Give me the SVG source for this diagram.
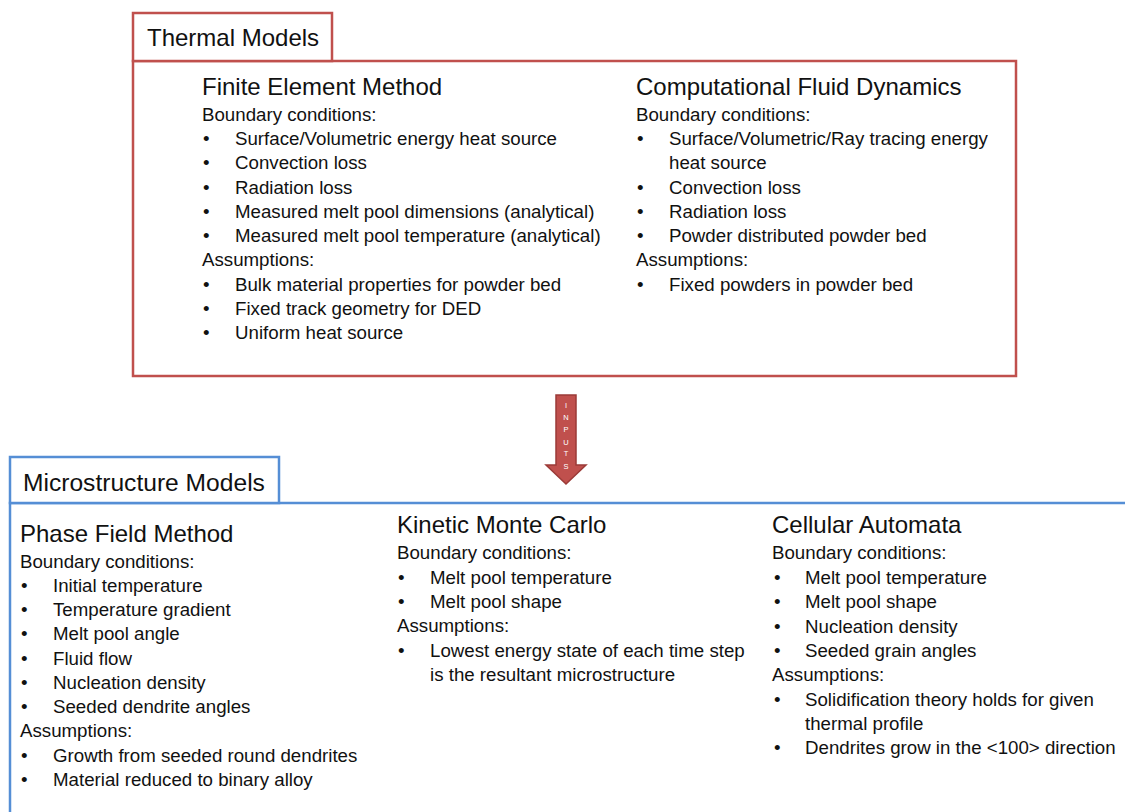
<svg xmlns="http://www.w3.org/2000/svg" width="1125" height="812" viewBox="0 0 1125 812">
<style>
text{font-family:"Liberation Sans",Arial,sans-serif;fill:#111;}
.hd{font-size:24px;}
.tt{font-size:24px;}
.b{font-size:18.7px;}
.red{fill:#fff;stroke:#C0504D;stroke-width:2.5;}
.blue{fill:#fff;stroke:#558ED5;stroke-width:2.5;}
.arr{font-size:7.5px;fill:#fff;text-anchor:middle;}
</style>
<rect width="1125" height="812" fill="#fff"/>
<g id="thermal-models">
<rect class="red" x="133" y="61" width="883" height="315"/>
<rect class="red" x="133" y="13" width="199" height="48"/>
<text class="hd" x="147" y="46">Thermal Models</text>
<g id="fem">
<text class="tt" x="202" y="95">Finite Element Method</text>
<text class="b" x="202" y="121">Boundary conditions:</text>
<text class="b"><tspan x="203" y="145">•</tspan><tspan x="235" y="145">Surface/Volumetric energy heat source</tspan></text>
<text class="b"><tspan x="203" y="169">•</tspan><tspan x="235" y="169">Convection loss</tspan></text>
<text class="b"><tspan x="203" y="193.5">•</tspan><tspan x="235" y="193.5">Radiation loss</tspan></text>
<text class="b"><tspan x="203" y="218">•</tspan><tspan x="235" y="218">Measured melt pool dimensions (analytical)</tspan></text>
<text class="b"><tspan x="203" y="242">•</tspan><tspan x="235" y="242">Measured melt pool temperature (analytical)</tspan></text>
<text class="b" x="202" y="266">Assumptions:</text>
<text class="b"><tspan x="203" y="291">•</tspan><tspan x="235" y="291">Bulk material properties for powder bed</tspan></text>
<text class="b"><tspan x="203" y="315">•</tspan><tspan x="235" y="315">Fixed track geometry for DED</tspan></text>
<text class="b"><tspan x="203" y="339">•</tspan><tspan x="235" y="339">Uniform heat source</tspan></text>
</g>
<g id="cfd">
<text class="tt" x="636" y="95">Computational Fluid Dynamics</text>
<text class="b" x="636" y="121">Boundary conditions:</text>
<text class="b"><tspan x="637" y="145">•</tspan><tspan x="669" y="145">Surface/Volumetric/Ray tracing energy</tspan></text>
<text class="b" x="669" y="169">heat source</text>
<text class="b"><tspan x="637" y="193.5">•</tspan><tspan x="669" y="193.5">Convection loss</tspan></text>
<text class="b"><tspan x="637" y="218">•</tspan><tspan x="669" y="218">Radiation loss</tspan></text>
<text class="b"><tspan x="637" y="242">•</tspan><tspan x="669" y="242">Powder distributed powder bed</tspan></text>
<text class="b" x="636" y="266">Assumptions:</text>
<text class="b"><tspan x="637" y="291">•</tspan><tspan x="669" y="291">Fixed powders in powder bed</tspan></text>
</g>
</g>
<g id="connectors">
<path d="M556,395 H576 V465 H586 L566,484 L546,465 H556 Z" fill="#C0504D" stroke="#9B3A37" stroke-width="1.5"/>
<text class="arr" x="566" y="408">I</text>
<text class="arr" x="566" y="420">N</text>
<text class="arr" x="566" y="432">P</text>
<text class="arr" x="566" y="444.5">U</text>
<text class="arr" x="566" y="456">T</text>
<text class="arr" x="566" y="469">S</text>
</g>
<g id="microstructure-models">
<rect class="blue" x="10" y="503" width="1130" height="330"/>
<rect class="blue" x="10" y="457" width="269" height="46"/>
<text class="hd" x="23" y="491" style="font-size:24.6px">Microstructure Models</text>
<g id="phase-field">
<text class="tt" x="20" y="542">Phase Field Method</text>
<text class="b" x="20" y="568">Boundary conditions:</text>
<text class="b"><tspan x="21" y="592">•</tspan><tspan x="53" y="592">Initial temperature</tspan></text>
<text class="b"><tspan x="21" y="616">•</tspan><tspan x="53" y="616">Temperature gradient</tspan></text>
<text class="b"><tspan x="21" y="640">•</tspan><tspan x="53" y="640">Melt pool angle</tspan></text>
<text class="b"><tspan x="21" y="664.5">•</tspan><tspan x="53" y="664.5">Fluid flow</tspan></text>
<text class="b"><tspan x="21" y="689">•</tspan><tspan x="53" y="689">Nucleation density</tspan></text>
<text class="b"><tspan x="21" y="713">•</tspan><tspan x="53" y="713">Seeded dendrite angles</tspan></text>
<text class="b" x="20" y="737">Assumptions:</text>
<text class="b"><tspan x="21" y="761.5">•</tspan><tspan x="53" y="761.5">Growth from seeded round dendrites</tspan></text>
<text class="b"><tspan x="21" y="786">•</tspan><tspan x="53" y="786">Material reduced to binary alloy</tspan></text>
</g>
<g id="kinetic-monte-carlo">
<text class="tt" x="397" y="533">Kinetic Monte Carlo</text>
<text class="b" x="397" y="559">Boundary conditions:</text>
<text class="b"><tspan x="398" y="584">•</tspan><tspan x="430" y="584">Melt pool temperature</tspan></text>
<text class="b"><tspan x="398" y="608">•</tspan><tspan x="430" y="608">Melt pool shape</tspan></text>
<text class="b" x="397" y="632">Assumptions:</text>
<text class="b"><tspan x="398" y="657">•</tspan><tspan x="430" y="657">Lowest energy state of each time step</tspan></text>
<text class="b" x="430" y="681">is the resultant microstructure</text>
</g>
<g id="cellular-automata">
<text class="tt" x="772" y="533">Cellular Automata</text>
<text class="b" x="772" y="559">Boundary conditions:</text>
<text class="b"><tspan x="774" y="584">•</tspan><tspan x="805" y="584">Melt pool temperature</tspan></text>
<text class="b"><tspan x="774" y="608">•</tspan><tspan x="805" y="608">Melt pool shape</tspan></text>
<text class="b"><tspan x="774" y="633">•</tspan><tspan x="805" y="633">Nucleation density</tspan></text>
<text class="b"><tspan x="774" y="657">•</tspan><tspan x="805" y="657">Seeded grain angles</tspan></text>
<text class="b" x="772" y="681">Assumptions:</text>
<text class="b"><tspan x="774" y="706">•</tspan><tspan x="805" y="706">Solidification theory holds for given</tspan></text>
<text class="b" x="805" y="730">thermal profile</text>
<text class="b"><tspan x="774" y="754">•</tspan><tspan x="805" y="754">Dendrites grow in the &lt;100&gt; direction</tspan></text>
</g>
</g>
</svg>
